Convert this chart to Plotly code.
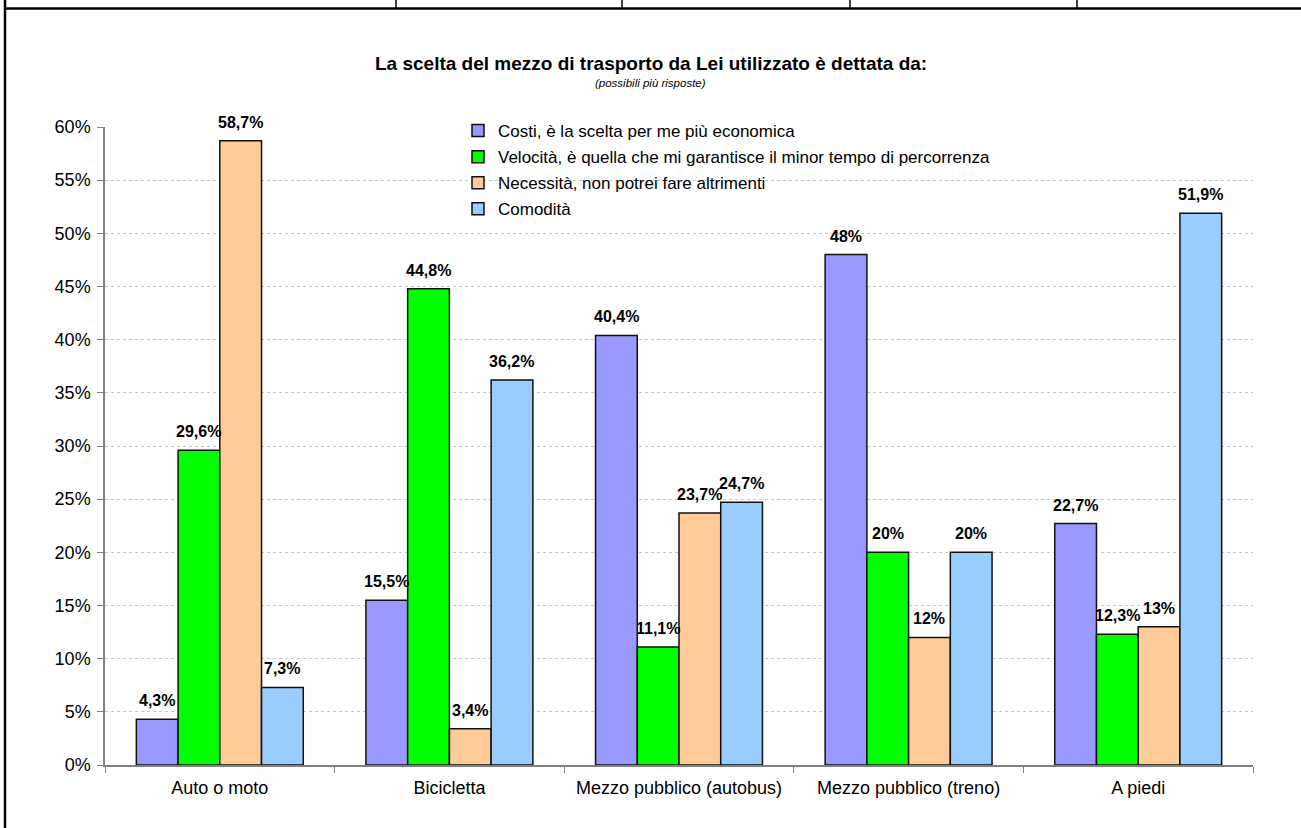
import plotly.graph_objects as go

categories = ["Auto o moto", "Bicicletta", "Mezzo pubblico (autobus)",
              "Mezzo pubblico (treno)", "A piedi"]
series_names = [
    "Costi, è la scelta per me più economica",
    "Velocità, è quella che mi garantisce il minor tempo di percorrenza",
    "Necessità, non potrei fare altrimenti",
    "Comodità",
]
costi = [4.3, 15.5, 40.4, 48, 22.7]
velocita = [29.6, 44.8, 11.1, 20, 12.3]
necessita = [58.7, 3.4, 23.7, 12, 13]
comodita = [7.3, 36.2, 24.7, 20, 51.9]
y_ticks = list(range(0, 61, 5))
y_tick_labels = [f"{t}%" for t in y_ticks]

series_values = [costi, velocita, necessita, comodita]
colors = ["#9999FF", "#00FF00", "#FFCC99", "#99CCFF"]

FONT = "Liberation Sans, Arial, sans-serif"
BARGAP = 0.273

fig = go.Figure()
for idx, (name, vals, col) in enumerate(zip(series_names, series_values, colors)):
    fig.add_trace(go.Bar(
        name=name, x=categories, y=vals, legendgroup=f"g{idx}",
        marker=dict(color=col, line=dict(color="#111111", width=1.5)),
        hoverinfo="skip",
    ))


def fmt(v):
    return f"{v:g}".replace(".", ",") + "%"


# value labels above each bar
n = len(series_values)
w = (1 - BARGAP) / n
annotations = []
for i, vals in enumerate(series_values):
    off = -(1 - BARGAP) / 2 + w * (i + 0.5)
    for k, v in enumerate(vals):
        annotations.append(dict(
            x=k + off, y=v, xref="x", yref="y", text=fmt(v), showarrow=False,
            yanchor="bottom", yshift=8,
            font=dict(family=FONT, size=16, color="#000000", weight="bold"),
        ))

annotations.append(dict(
    x=0.4756, y=1.1003, xref="paper", yref="paper", showarrow=False,
    text="<b>La scelta del mezzo di trasporto da Lei utilizzato è dettata da:</b>",
    font=dict(family=FONT, size=19, color="#000000"), yanchor="middle",
))
annotations.append(dict(
    x=0.4756, y=1.069, xref="paper", yref="paper", showarrow=False,
    text="<i>(possibili più risposte)</i>",
    font=dict(family=FONT, size=11.5, color="#000000"), yanchor="middle",
))

# frame of the surrounding table
L, R, T, B = 105, 48, 127, 63
PW, PH = 1301 - L - R, 828 - T - B


def px(xp):
    return (xp - L) / PW


def py(yp):
    return (828 - B - yp) / PH


shapes = [
    dict(type="line", xref="paper", yref="paper", x0=px(5), x1=px(5),
         y0=py(0), y1=py(830), line=dict(color="#000000", width=2.5)),
    dict(type="line", xref="paper", yref="paper", x0=px(5), x1=px(1301),
         y0=py(8.5), y1=py(8.5), line=dict(color="#000000", width=2.5)),
]
for xv in [396, 622, 850, 1077]:
    shapes.append(dict(type="line", xref="paper", yref="paper", x0=px(xv), x1=px(xv),
                       y0=py(0), y1=py(8), line=dict(color="#000000", width=1.5)))

fig.update_layout(
    width=1301, height=828,
    margin=dict(l=L, r=R, t=T, b=B),
    paper_bgcolor="white", plot_bgcolor="white",
    barmode="group", bargap=BARGAP, bargroupgap=0,
    font=dict(family=FONT, size=14, color="#000000"),
    showlegend=True,
    legend=dict(
        x=px(458), y=py(113), xanchor="left", yanchor="top",
        bgcolor="rgba(0,0,0,0)", font=dict(family=FONT, size=17),
        itemwidth=30, tracegroupgap=1.0,
    ),
    annotations=annotations,
    shapes=shapes,
    xaxis=dict(
        type="category", showline=True, linecolor="#808080", linewidth=1.5,
        ticks="outside", tickson="boundaries", ticklen=6, tickcolor="#808080",
        tickfont=dict(family=FONT, size=18), showgrid=False,
        ticklabelstandoff=6,
    ),
    yaxis=dict(
        range=[0, 60], tickvals=y_ticks, ticktext=y_tick_labels,
        showline=True, linecolor="#808080", linewidth=1.5,
        ticks="outside", ticklen=6, tickcolor="#808080",
        showgrid=True, gridcolor="#C8C8C8", griddash="dot", gridwidth=1,
        tickfont=dict(family=FONT, size=18), zeroline=False,
        ticklabelstandoff=3,
    ),
)

fig.write_html("out.html")
